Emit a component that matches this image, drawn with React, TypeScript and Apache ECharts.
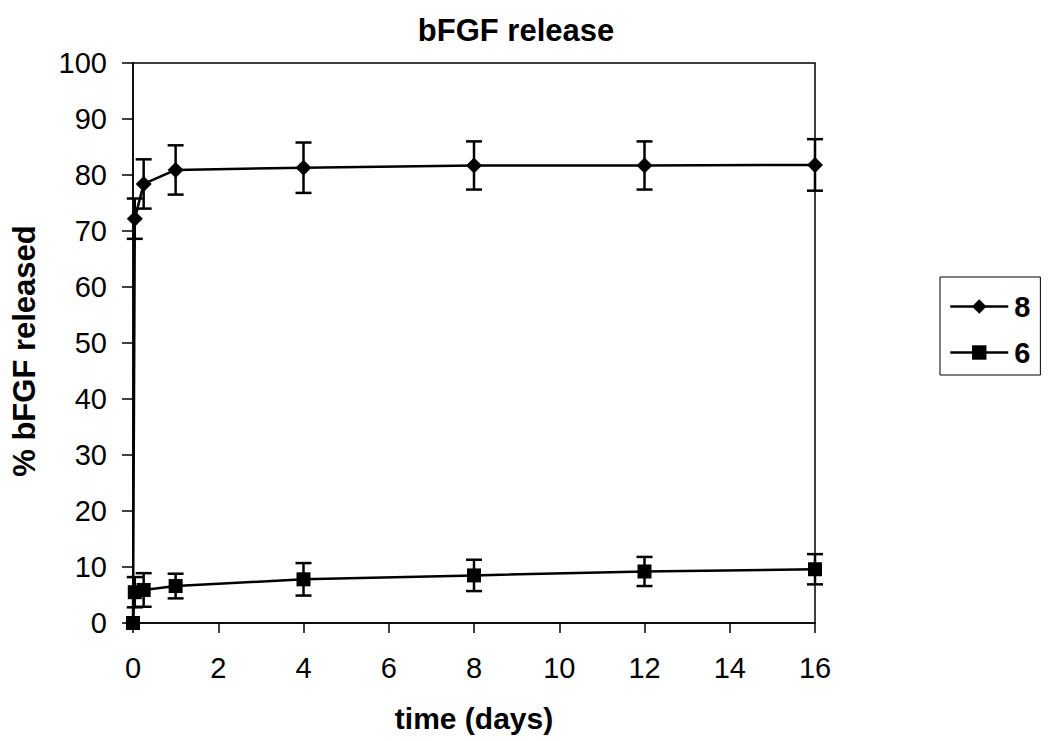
import React, { useEffect, useRef } from "react";
import * as echarts from "echarts";

const days = [0, 0.042, 0.25, 1, 4, 8, 12, 16];
const release8 = [0, 72.2, 78.4, 80.9, 81.3, 81.7, 81.7, 81.8];
const err8 = [0, 3.6, 4.4, 4.4, 4.5, 4.3, 4.3, 4.6];
const release6 = [0, 5.5, 5.9, 6.6, 7.8, 8.5, 9.2, 9.6];
const err6 = [0, 2.7, 3.0, 2.2, 2.9, 2.8, 2.6, 2.7];
const yTicks = [0, 10, 20, 30, 40, 50, 60, 70, 80, 90, 100];
const xTicks = [0, 2, 4, 6, 8, 10, 12, 14, 16];

const FONT = "'Liberation Sans', Arial, sans-serif";

function errData(vals: number[], errs: number[]) {
  return days
    .map((d, i) => [d, vals[i] - errs[i], vals[i] + errs[i]])
    .filter((_, i) => errs[i] > 0);
}

function errSeries(vals: number[], errs: number[]) {
  return {
    type: "custom",
    silent: true,
    z: 3,
    data: errData(vals, errs),
    encode: { x: 0, y: [1, 2] },
    renderItem: (params: any, api: any) => {
      const x = api.value(0);
      const lo = api.coord([x, api.value(1)]);
      const hi = api.coord([x, api.value(2)]);
      const w = 8;
      const style = { stroke: "#000", lineWidth: 2.5 };
      return {
        type: "group",
        children: [
          { type: "line", shape: { x1: lo[0], y1: lo[1], x2: hi[0], y2: hi[1] }, style },
          { type: "line", shape: { x1: lo[0] - w, y1: lo[1], x2: lo[0] + w, y2: lo[1] }, style },
          { type: "line", shape: { x1: hi[0] - w, y1: hi[1], x2: hi[0] + w, y2: hi[1] }, style },
        ],
      };
    },
  };
}

export default function App() {
  const ref = useRef<HTMLDivElement>(null);
  useEffect(() => {
    if (!ref.current) return;
    const chart = echarts.init(ref.current, null, { renderer: "svg" });
    chart.setOption({
      animation: false,
      backgroundColor: "#fff",
      title: {
        text: "bFGF release",
        left: 511,
        top: 10,
        textAlign: "center",
        textStyle: { fontFamily: FONT, fontSize: 31, fontWeight: "bold", color: "#000" },
      },
      graphic: [
        {
          type: "text",
          x: 24,
          y: 351,
          rotation: Math.PI / 2,
          style: {
            text: "% bFGF released",
            font: `bold 31px ${FONT}`,
            fill: "#000",
            textAlign: "center",
            textVerticalAlign: "middle",
          },
        },
      ],
      grid: {
        left: 133,
        right: 235,
        top: 63,
        bottom: 118,
        show: true,
        borderColor: "#000",
        borderWidth: 1.5,
        backgroundColor: "transparent",
      },
      legend: {
        orient: "vertical",
        left: 940,
        top: 277,
        padding: [15, 10, 8, 9],
        itemGap: 17,
        itemWidth: 58,
        itemHeight: 18,
        borderColor: "#000",
        borderWidth: 1,
        lineStyle: { width: 2.5 },
        textStyle: { fontFamily: FONT, fontSize: 29, fontWeight: "bold", color: "#000", padding: [0, 0, 0, 1] },
        data: ["8", "6"],
      },
      xAxis: {
        type: "value",
        min: 0,
        max: 16,
        interval: 2,
        name: "time (days)",
        nameLocation: "middle",
        nameGap: 80,
        nameTextStyle: { fontFamily: FONT, fontSize: 30, fontWeight: "bold", color: "#000" },
        axisLine: { show: true, lineStyle: { color: "#000", width: 1.5 } },
        axisTick: { show: true, length: 10, inside: false, lineStyle: { color: "#000", width: 1.5 } },
        axisLabel: {
          fontFamily: FONT,
          fontSize: 29,
          color: "#000",
          margin: 30,
          formatter: (v: number) => (xTicks.includes(v) ? String(v) : ""),
        },
        splitLine: { show: false },
      },
      yAxis: {
        type: "value",
        min: 0,
        max: 100,
        interval: 10,
        axisLine: { show: true, lineStyle: { color: "#000", width: 1.5 } },
        axisTick: { show: true, length: 11, inside: false, lineStyle: { color: "#000", width: 1.5 } },
        axisLabel: {
          fontFamily: FONT,
          fontSize: 29,
          color: "#000",
          margin: 26,
          formatter: (v: number) => (yTicks.includes(v) ? String(v) : ""),
        },
        splitLine: { show: false },
      },
      series: [
        errSeries(release8, err8),
        errSeries(release6, err6),
        {
          name: "8",
          type: "line",
          z: 4,
          data: days.map((d, i) => [d, release8[i]]),
          symbol: "diamond",
          symbolSize: 16,
          showAllSymbol: true,
          itemStyle: { color: "#000" },
          lineStyle: { color: "#000", width: 2.5 },
        },
        {
          name: "6",
          type: "line",
          z: 4,
          data: days.map((d, i) => [d, release6[i]]),
          symbol: "rect",
          symbolSize: 14,
          showAllSymbol: true,
          itemStyle: { color: "#000" },
          lineStyle: { color: "#000", width: 2.5 },
        },
      ],
    });
    return () => chart.dispose();
  }, []);
  return (
    <div
      ref={ref}
      style={{ position: "fixed", left: 0, top: 0, width: 1050, height: 741, background: "#fff" }}
    />
  );
}
